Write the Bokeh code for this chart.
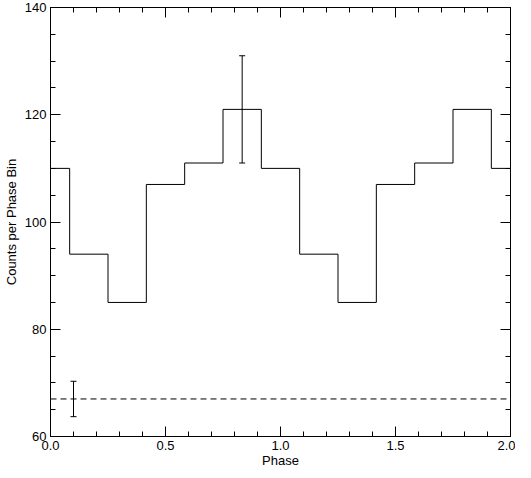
from bokeh.plotting import figure
from bokeh.models import (LinearAxis, SingleIntervalTicker, Span, Whisker,
                          ColumnDataSource, TeeHead, NumeralTickFormatter,
                          CustomLabelingPolicy)
from bokeh.embed import file_html
from bokeh.resources import INLINE

# ---- data ----
phase = [0.0, 1/6, 2/6, 3/6, 4/6, 5/6, 1.0, 7/6, 8/6, 9/6, 10/6, 11/6, 2.0]
counts = [110, 94, 85, 107, 111, 121, 110, 94, 85, 107, 111, 121, 110]
err_phase = [5/6]
err_value = [121]
err_size = [10]
bg_level = 67
bg_phase = [0.1]
bg_err = [3.3]

FONT = "Liberation Sans"
FS = "13px"

p = figure(width=515, height=470, x_range=(0, 2), y_range=(60, 140),
           output_backend="svg", toolbar_location=None,
           x_axis_type=None, y_axis_type=None,
           min_border=0, min_border_left=43, min_border_right=2,
           min_border_top=7, min_border_bottom=0)
p.outline_line_color = "black"
p.background_fill_color = "white"
p.border_fill_color = "white"

xt = SingleIntervalTicker(interval=0.5, num_minor_ticks=5)
yt = SingleIntervalTicker(interval=20, num_minor_ticks=4)

hide_all = CustomLabelingPolicy(code="""
    for (const i of Array.from(indices)) { indices.unset(i) }
    return indices
""")


def style(ax, labels=True):
    ax.major_tick_in = 10
    ax.major_tick_out = 0
    ax.minor_tick_in = 5
    ax.minor_tick_out = 0
    ax.axis_line_color = "black"
    ax.major_tick_line_color = "black"
    ax.minor_tick_line_color = "black"
    ax.major_label_text_font = FONT
    ax.axis_label_text_font = FONT
    ax.axis_label_text_font_style = "normal"
    ax.major_label_text_color = "black"
    ax.axis_label_text_color = "black"
    if labels:
        ax.major_label_text_font_size = FS
        ax.axis_label_text_font_size = FS
    else:
        ax.major_label_text_font_size = "1px"
        ax.major_label_standoff = 0
        ax.axis_label_standoff = 0
        ax.major_label_policy = hide_all


xb = LinearAxis(ticker=xt, axis_label="Phase", formatter=NumeralTickFormatter(format="0.0"))
style(xb)
xb.major_label_standoff = 4
xb.axis_label_standoff = 0
p.add_layout(xb, "below")

xa = LinearAxis(ticker=xt)
style(xa, labels=False)
p.add_layout(xa, "above")

yl = LinearAxis(ticker=yt, axis_label="Counts per Phase Bin")
style(yl)
yl.major_label_standoff = 4
yl.axis_label_standoff = 3
p.add_layout(yl, "left")

yr = LinearAxis(ticker=yt)
style(yr, labels=False)
p.add_layout(yr, "right")

# step histogram
p.step(x=phase, y=counts, mode="center", line_color="black", line_width=1)

# error bar on the peak bin
src = ColumnDataSource(dict(x=err_phase,
                            lo=[v - e for v, e in zip(err_value, err_size)],
                            hi=[v + e for v, e in zip(err_value, err_size)]))
p.add_layout(Whisker(base="x", lower="lo", upper="hi", source=src, dimension="height",
                     line_color="black", line_width=1,
                     upper_head=TeeHead(size=6, line_color="black", line_width=1),
                     lower_head=TeeHead(size=6, line_color="black", line_width=1)))

# background level
p.add_layout(Span(location=bg_level, dimension="width", line_color="black",
                  line_width=1, line_dash="6 4"))
src2 = ColumnDataSource(dict(x=bg_phase,
                             lo=[bg_level - e for e in bg_err],
                             hi=[bg_level + e for e in bg_err]))
p.add_layout(Whisker(base="x", lower="lo", upper="hi", source=src2, dimension="height",
                     line_color="black", line_width=1,
                     upper_head=TeeHead(size=6, line_color="black", line_width=1),
                     lower_head=TeeHead(size=6, line_color="black", line_width=1)))

open("out.html", "w").write(file_html(p, INLINE))
